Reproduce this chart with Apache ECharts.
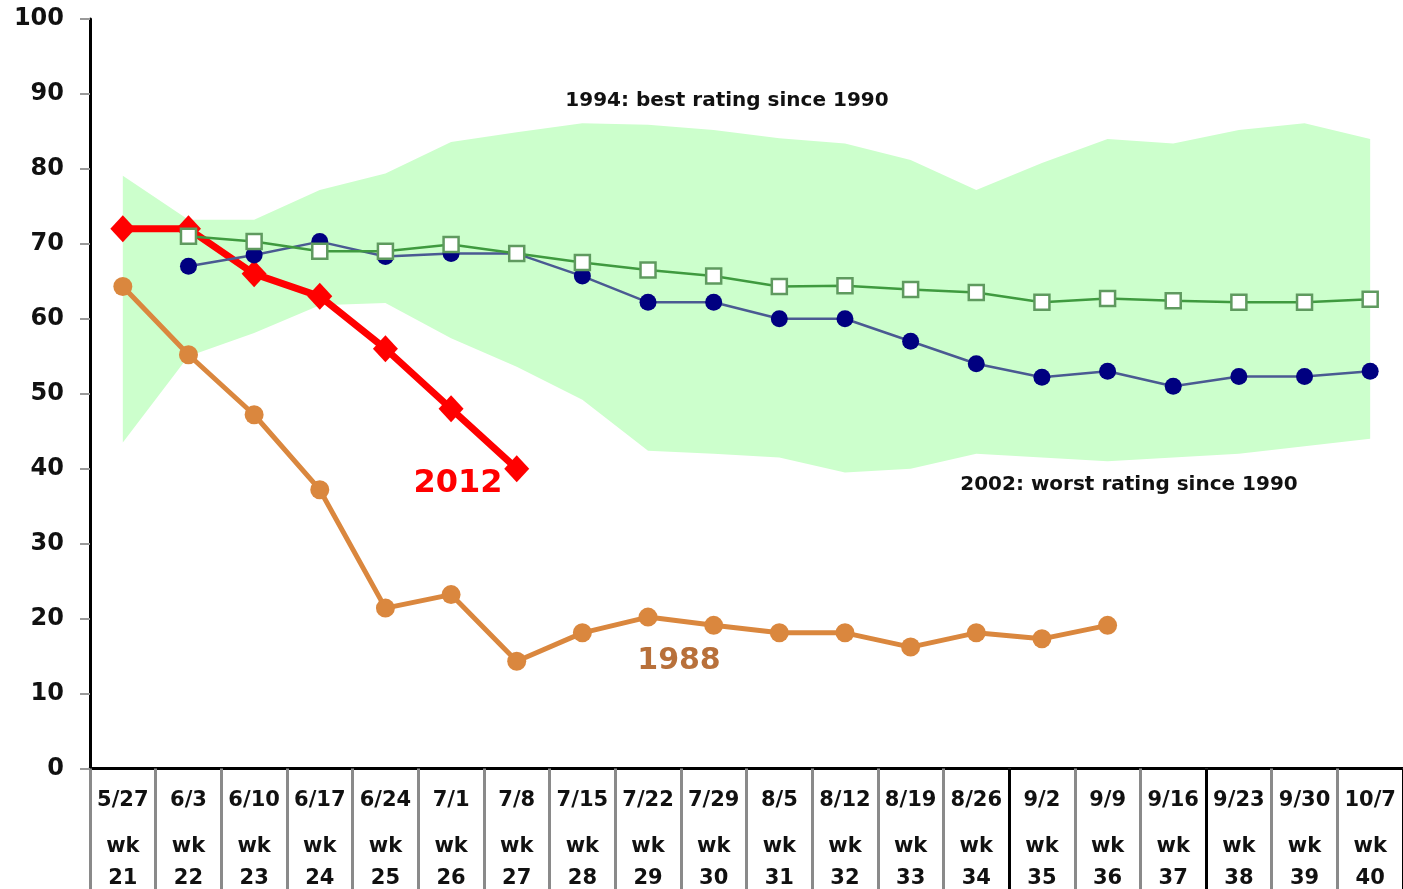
<!DOCTYPE html>
<html><head><meta charset="utf-8">
<script src="https://cdn.jsdelivr.net/npm/echarts@6/dist/echarts.min.js"></script>
<style>html,body{margin:0;padding:0;background:#fff}#c{width:1403px;height:889px}</style>
</head><body><div id="c"></div>
<script>
const weekDates = ['5/27','6/3','6/10','6/17','6/24','7/1','7/8','7/15','7/22','7/29','8/5','8/12','8/19','8/26','9/2','9/9','9/16','9/23','9/30','10/7'];
const weekNums = [21,22,23,24,25,26,27,28,29,30,31,32,33,34,35,36,37,38,39,40];
const bandHigh = [79.1,73.2,73.2,77.2,79.4,83.6,84.9,86.1,85.9,85.2,84.1,83.4,81.2,77.2,80.8,84,83.4,85.2,86.1,84];
const bandLow  = [43.5,55,58.1,61.8,62.1,57.4,53.6,49.2,42.4,42,41.5,39.5,40,42,41.5,41,41.5,42,43,44];
const y2012 = [72,72,66,63,56,48,40,'-','-','-','-','-','-','-','-','-','-','-','-','-'];
const y1988 = [64.3,55.2,47.2,37.2,21.4,23.2,14.3,18.1,20.2,19.1,18.1,18.1,16.2,18.1,17.3,19.1,'-','-','-','-'];
const y2011 = ['-',67,68.5,70.3,68.3,68.7,68.7,65.7,62.2,62.2,60,60,57,54,52.2,53,51,52.3,52.3,53];
const y2007_11 = ['-',71,70.3,69,69,69.9,68.7,67.5,66.5,65.7,64.3,64.4,63.9,63.5,62.2,62.7,62.4,62.2,62.2,62.6];
const yMin = 0, yMax = 100, yStep = 10;
const heavySeparators = ['9/2','9/23'];

const bandDiff = bandHigh.map((h, i) => +(h - bandLow[i]).toFixed(2));
const chart = echarts.init(document.getElementById('c'));
const FONT = 'DejaVu Sans';
chart.setOption({
  animation: false,
  backgroundColor: '#fff',
  grid: { left: 90, top: 19, bottom: 120, width: 1317 },
  xAxis: [{
    type: 'category', data: weekDates, boundaryGap: true, position: 'bottom',
    axisLine: { show: true, lineStyle: { color: '#000', width: 3 } },
    axisTick: { show: true, interval: 0, length: 125, lineStyle: { color: '#8a8a8a', width: 3 } },
    axisLabel: {
      interval: 0, margin: 14,
      formatter: (v, i) => '{a|' + v + '}\n{b|wk}\n{c|' + weekNums[i] + '}',
      rich: {
        a: { fontFamily: FONT, fontWeight: 'bold', fontSize: 21, color: '#111', lineHeight: 36 },
        b: { fontFamily: FONT, fontWeight: 'bold', fontSize: 21, color: '#111', lineHeight: 56 },
        c: { fontFamily: FONT, fontWeight: 'bold', fontSize: 21, color: '#111', lineHeight: 8 }
      }
    },
    splitLine: { show: false }
  }, {
    type: 'category', data: weekDates, boundaryGap: true, position: 'bottom', gridIndex: 0,
    axisLine: { show: false },
    axisTick: { show: true, length: 125, interval: (i, v) => heavySeparators.indexOf(v) >= 0, lineStyle: { color: '#000', width: 3 } },
    axisLabel: { show: false },
    splitLine: { show: false }
  }],
  yAxis: {
    type: 'value', min: yMin, max: yMax, interval: yStep,
    axisLine: { show: true, lineStyle: { color: '#000', width: 3 } },
    axisTick: { show: true, length: 10, lineStyle: { color: '#999', width: 2 } },
    axisLabel: { margin: 26, fontFamily: FONT, fontWeight: 'bold', fontSize: 24, color: '#111', padding: [4, 0, 0, 0] },
    splitLine: { show: false }
  },
  series: [
    { name: 'low', type: 'line', data: bandLow, stack: 'band', symbol: 'none', lineStyle: { opacity: 0 }, silent: true, z: 1 },
    { name: 'band', type: 'line', data: bandDiff, stack: 'band', symbol: 'none', lineStyle: { opacity: 0 },
      areaStyle: { color: '#ccffcc', opacity: 1 }, silent: true, z: 1 },
    { name: '1988', type: 'line', data: y1988, symbol: 'circle', symbolSize: 19,
      itemStyle: { color: '#da873e' }, lineStyle: { color: '#da873e', width: 5 }, z: 3 },
    { name: '2012', type: 'line', data: y2012, symbol: 'diamond', symbolSize: [25, 27],
      itemStyle: { color: '#ff0000' }, lineStyle: { color: '#ff0000', width: 7 }, z: 4 },
    { name: '2011', type: 'line', data: y2011, symbol: 'circle', symbolSize: 17,
      itemStyle: { color: '#000080' }, lineStyle: { color: '#4a5a92', width: 2.5 }, z: 5 },
    { name: '2007-11', type: 'line', data: y2007_11, symbol: 'rect', symbolSize: 15,
      itemStyle: { color: '#fff', borderColor: '#5f9a5f', borderWidth: 2.5 },
      lineStyle: { color: '#3f9a3f', width: 2.5 }, z: 6 }
  ],
  graphic: [
    { type: 'text', x: 727, y: 101, style: { text: '1994: best rating since 1990', fill: '#111', font: 'bold 20px "DejaVu Sans"', textAlign: 'center', textVerticalAlign: 'middle' } },
    { type: 'text', x: 1129, y: 485, style: { text: '2002: worst rating since 1990', fill: '#111', font: 'bold 20px "DejaVu Sans"', textAlign: 'center', textVerticalAlign: 'middle' } },
    { type: 'text', x: 458, y: 484, style: { text: '2012', fill: '#ff0000', font: 'bold 32px "DejaVu Sans"', textAlign: 'center', textVerticalAlign: 'middle' } },
    { type: 'text', x: 679, y: 661, style: { text: '1988', fill: '#b8703a', font: 'bold 30px "DejaVu Sans"', textAlign: 'center', textVerticalAlign: 'middle' } },
    { type: 'text', x: 1190, y: 272, style: { text: '2007-11', fill: '#3a8a2a', font: 'bold 24px "DejaVu Sans"', textAlign: 'center', textVerticalAlign: 'middle' } },
    { type: 'text', x: 1306, y: 411, style: { text: '2011', fill: '#000080', font: 'bold 24px "DejaVu Sans"', textAlign: 'center', textVerticalAlign: 'middle' } }
  ]
});
</script></body></html>
